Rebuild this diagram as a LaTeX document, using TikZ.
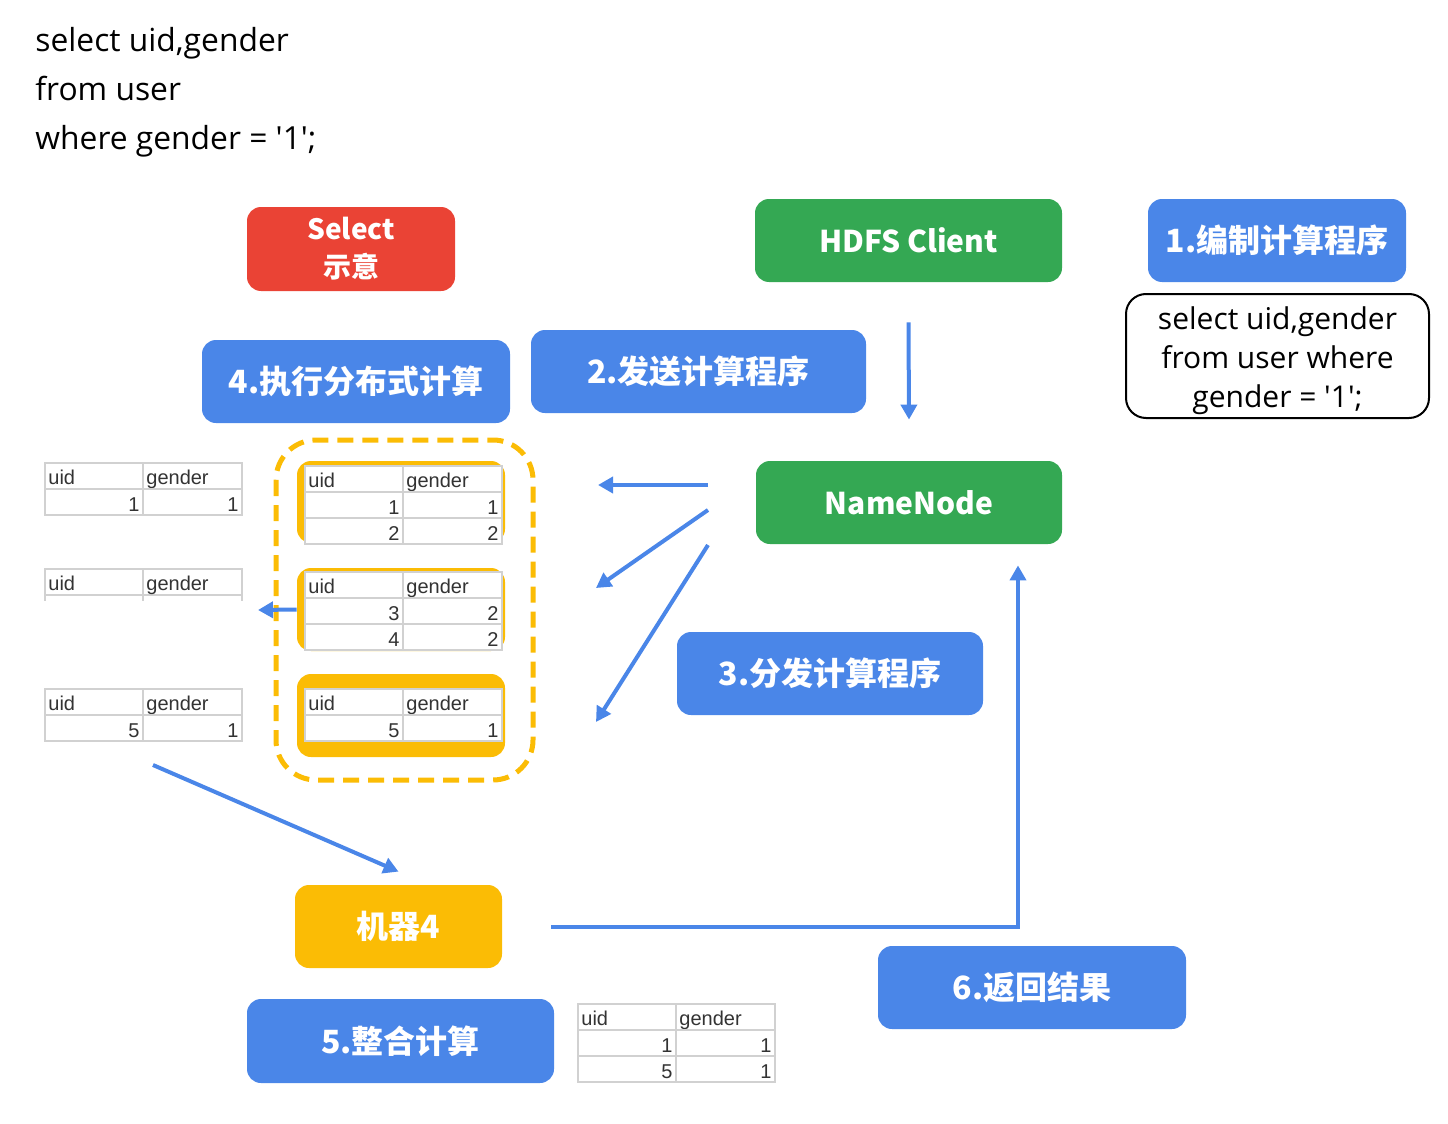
\documentclass[tikz,border=0pt]{standalone}
\usepackage{fontspec}
\setmainfont{Open Sans}
\newfontfamily\cjk{Noto Sans CJK SC}
\newfontfamily\tabfont{Liberation Sans}
\usetikzlibrary{arrows.meta,positioning}

\definecolor{gblue}{HTML}{4A86E8}
\definecolor{ggreen}{HTML}{34A853}
\definecolor{gred}{HTML}{EA4335}
\definecolor{gyellow}{HTML}{FBBC05}

\tikzset{
  box/.style={rounded corners=7pt, text=white, inner sep=0pt,
    font=\cjk\bfseries\fontsize{16}{19}\selectfont},
  bluebox/.style={box, fill=gblue},
  greenbox/.style={box, fill=ggreen, font=\cjk\bfseries\fontsize{15}{19}\selectfont},
  redbox/.style={box, fill=gred},
  yellowbox/.style={box, fill=gyellow},
  query/.style={anchor=base west, inner sep=0pt, font=\fontsize{15.9}{19}\selectfont},
  arr/.style={draw=gblue, line width=2pt, -{Triangle[width=8pt,length=7.5pt]}},
  tabline/.style={draw=black!18, line width=0.7pt},
  cell/.style={font=\tabfont\fontsize{10}{12}\selectfont, text=black!80, inner sep=0pt},
}

% #1 = name, #2 = top left corner, #3 = rows uid/gender
\newcommand{\datatable}[3]{%
  \begin{scope}[shift={#2}]
    \fill[white] (0,0) rectangle (197,26);
    \draw[tabline] (0,0) rectangle (197,26) (98,0) -- (98,26);
    \node (#1-uid) [cell, anchor=base west] at (3,21) {uid};
    \node (#1-gender) [cell, anchor=base west] at (101,21) {gender};
    \foreach \u/\g [count=\i] in {#3} {
      \fill[white] (0,26*\i) rectangle (197,26*\i+26);
      \draw[tabline] (0,26*\i) rectangle (197,26*\i+26) (98,26*\i) -- (98,26*\i+26);
      \node (#1-u\i) [cell, anchor=base east] at (95,26*\i+22) {\u};
      \node (#1-g\i) [cell, anchor=base east] at (194,26*\i+22) {\g};
    }
  \end{scope}}

\begin{document}
\begin{tikzpicture}[x=0.5pt,y=-0.5pt]
  \useasboundingbox (0,0) rectangle (1448,1124);

  % query text
  \node (sql1) [query] at (35,51) {select uid,gender};
  \node (sql2) [query] at (35,100) {from user};
  \node (sql3) [query] at (35,149) {where gender = \textquotesingle1\textquotesingle;};

  % boxes
  \node (select) [redbox, minimum width=104pt, minimum height=42pt, align=center,
    font=\cjk\bfseries\fontsize{14}{19}\selectfont] at (351,249) {Select\\示意};
  \node (hdfs) [greenbox, minimum width=153.5pt, minimum height=41.5pt] at (908.5,240.5) {HDFS Client};
  \node (step1) [bluebox, minimum width=129pt, minimum height=41.5pt] at (1277,240.5) {1.编制计算程序};
  \node (code) [draw=black, line width=1pt, rounded corners=10pt, minimum width=151.5pt,
    minimum height=62pt, inner sep=0pt, align=center, font=\fontsize{15}{19.5}\selectfont] at (1277.5,356)
    {\rule{0pt}{16pt}select uid,gender\\from user where\\gender = \textquotesingle1\textquotesingle;};
  \node (step4) [bluebox, minimum width=154pt, minimum height=41.5pt] at (356,381.5) {4.执行分布式计算};
  \node (step2) [bluebox, minimum width=167.5pt, minimum height=41.5pt] at (698.5,371.5) {2.发送计算程序};
  \node (namenode) [greenbox, minimum width=153pt, minimum height=41.5pt] at (909,502.5) {NameNode};
  \node (step3) [bluebox, minimum width=153pt, minimum height=41.5pt] at (830,673.5) {3.分发计算程序};
  \node (m4) [yellowbox, minimum width=103.5pt, minimum height=41.5pt] at (398.5,926.5) {机器4};
  \node (step6) [bluebox, minimum width=154pt, minimum height=41.5pt] at (1032,987.5) {6.返回结果};
  \node (step5) [bluebox, minimum width=153.5pt, minimum height=42pt] at (400.5,1041) {5.整合计算};

  % data blocks
  \draw[gyellow, line width=2.5pt, dash pattern=on 8pt off 4.5pt, rounded corners=20pt]
    (276,440) rectangle (533,780);
  \node (block1) [yellowbox, minimum width=104pt, minimum height=41pt] at (401,502) {};
  \node (block2) [yellowbox, minimum width=104pt, minimum height=41.5pt] at (401,609.5) {};
  \node (block3) [yellowbox, minimum width=104pt, minimum height=41.5pt] at (401,715.5) {};
  \datatable{b1}{(305,466)}{1/1,2/2}
  \datatable{b2}{(305,572)}{3/2,4/2}
  \datatable{b3}{(305,689)}{5/1}

  % filtered tables
  \datatable{t1}{(45,463)}{1/1}
  \datatable{t3}{(45,689)}{5/1}
  \begin{scope}[shift={(45,569)}]
    \draw[tabline] (0,0) rectangle (197,26) (98,0) -- (98,26);
    \draw[tabline] (0,26) -- (0,32) (98,26) -- (98,32) (197,26) -- (197,32);
    \node (t2-uid) [cell, anchor=base west] at (3,21) {uid};
    \node (t2-gender) [cell, anchor=base west] at (101,21) {gender};
  \end{scope}
  \datatable{res}{(578,1004)}{1/1,5/1}

  % connectors
  \coordinate (nn1) at (708,485);
  \coordinate (nn2) at (708,510);
  \coordinate (nn3) at (708,545);
  \coordinate (d1) at (598,485);
  \coordinate (d2) at (596,588);
  \coordinate (d3) at (596,722);
  \coordinate (t2end) at (258,610);
  \coordinate (t3out) at (153,765);
  \draw[arr] ([yshift=-20pt]hdfs.south) -- ([yshift=20.5pt]namenode.north);
  \draw[arr] (nn1) -- (d1);
  \draw[arr] (nn2) -- (d2);
  \draw[arr] (nn3) -- (d3);
  \draw[arr] (block2.west) -- (t2end);
  \draw[arr] (t3out) -- ([yshift=6.5pt]m4.north);
  \draw[arr] ([xshift=24.5pt]m4.east) -| ([xshift=54.5pt,yshift=-10.5pt]namenode.south);
\end{tikzpicture}
\end{document}
